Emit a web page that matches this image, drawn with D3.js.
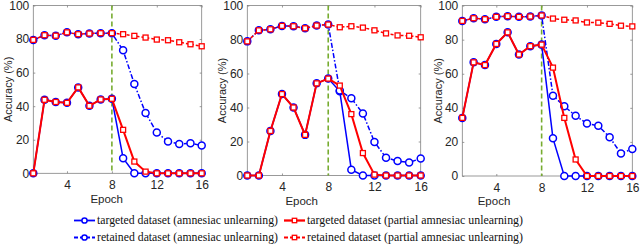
<!DOCTYPE html>
<html><head><meta charset="utf-8">
<script src="https://cdn.jsdelivr.net/npm/d3@7"></script>
<style>html,body{margin:0;padding:0;background:#fff}svg{display:block}</style>
</head><body>
<svg id="chart" width="640" height="245"></svg>
<script>
// ---- data ----
const epochs = [1,2,3,4,5,6,7,8,9,10,11,12,13,14,15,16];
const xTicks = [4,8,12,16];
const yTicks = [0,20,40,60,80,100];
const unlearnEpoch = 8;

const p1TargetedAmn     = [0,43.8,42.5,42,51.2,40.2,44,44.4, 9,0,0,0,0,0,0,0];
const p1TargetedPartial = [0,43.8,42.5,42,51.2,40.2,44,44.4, 25.9,7,1,0,0,0,0,0];
const p1RetainedAmn     = [79.5,82.3,82,84,82.9,83.3,83.5,83.5, 73.3,53.2,35.9,24.3,18.9,17.5,17.9,16.5];
const p1RetainedPartial = [79.5,82.3,82,84,82.9,83.3,83.5,83.5, 82.9,81.9,80.9,79.7,79.3,78.1,76.9,75.7];

const p2TargetedAmn     = [0,0,26.2,47.9,40,23.9,54.2,57, 49.5,3.4,0,0,0,0,0,0];
const p2TargetedPartial = [0,0,26.2,47.9,40,23.9,54.2,57, 52.9,36.1,13.2,0.5,0,0,0,0];
const p2RetainedAmn     = [78.9,85.4,86,88,87.8,86.6,88.2,88.8, 50,45.4,36.5,19.7,10.5,8.5,7.7,10];
const p2RetainedPartial = [78.9,85.4,86,88,87.8,86.6,88.2,88.8, 87.2,87.8,87,85.4,83.6,82.4,82.2,81.3];

const p3TargetedAmn     = [34.1,66.7,65.1,77.5,84.3,71.3,76.2,77.1, 22.1,0,0,0,0,0,0,0];
const p3TargetedPartial = [34.1,66.7,65.1,77.5,84.3,71.3,76.2,77.1, 63.6,34.1,9.7,0,0,0,0,0];
const p3RetainedAmn     = [91,92.6,92,93.4,93.8,93.4,93.6,94.2, 47.1,41,35.3,30.8,29.5,22.7,13.2,15.9];
const p3RetainedPartial = [91,92.6,92,93.4,93.8,93.4,93.6,94.2, 92.4,91.7,91.3,90.1,90,89.3,88.2,87.8];

const seriesNames = [
  "targeted dataset (amnesiac unlearning)",
  "targeted dataset (partial amnesiac unlearning)",
  "retained dataset (amnesiac unlearning)",
  "retained dataset (partial amnesiac unlearning)"
];
const xLabel = "Epoch";
const yLabel = "Accuracy (%)";

// ---- styling / layout ----
const BLUE = "#0000ff", RED = "#ff0000", GREEN = "#77ac30";
const AXIS = "#808080", TEXT = "#262626";
const styles = [
  {color: BLUE, marker: "circle", dash: null, width: 1.5},
  {color: RED, marker: "square", dash: null, width: 2},
  {color: BLUE, marker: "circle", dash: "5,2,1.5,2", width: 1.5},
  {color: RED, marker: "square", dash: "3,2", width: 1.5}
];
const panels = [
  {box: [33.3, 201.7, 5.5, 173.3], series: [p1TargetedAmn, p1TargetedPartial, p1RetainedAmn, p1RetainedPartial], xl: [106.7, 203], yl: 8},
  {box: [247.3, 420.7, 5.5, 175.5], series: [p2TargetedAmn, p2TargetedPartial, p2RetainedAmn, p2RetainedPartial], xl: [301.7, 205], yl: 222},
  {box: [462.3, 632.3, 5.6, 176], series: [p3TargetedAmn, p3TargetedPartial, p3RetainedAmn, p3RetainedPartial], xl: [494, 205], yl: 438}
];

const svg = d3.select("#chart");
const FONT = "'Liberation Sans', Arial, sans-serif";

function drawMarker(g, shape, color, x, y, r) {
  if (shape === "circle") {
    g.append("circle").attr("cx", x).attr("cy", y).attr("r", r)
      .attr("fill", "#fff").attr("stroke", color).attr("stroke-width", 1.5);
  } else {
    g.append("rect").attr("x", x - r).attr("y", y - r).attr("width", 2*r).attr("height", 2*r)
      .attr("fill", "#fff").attr("stroke", color).attr("stroke-width", 1.3);
  }
}

panels.forEach(p => {
  const [L, R, T, B] = p.box;
  const x = d3.scaleLinear().domain([1, 16]).range([L, R]);
  const y = d3.scaleLinear().domain([0, 100]).range([B, T]);
  const g = svg.append("g");

  // box
  g.append("rect").attr("x", L).attr("y", T).attr("width", R - L).attr("height", B - T)
    .attr("fill", "none").attr("stroke", AXIS).attr("stroke-width", 0.8);

  // axes (ticks inward)
  const ax = g.append("g").attr("transform", `translate(0,${B})`)
    .call(d3.axisBottom(x).tickValues(xTicks).tickSizeInner(-2).tickSizeOuter(0).tickPadding(7));
  const ay = g.append("g").attr("transform", `translate(${L},0)`)
    .call(d3.axisLeft(y).tickValues(yTicks).tickSizeInner(-2).tickSizeOuter(0).tickPadding(4));
  const axT = g.append("g").attr("transform", `translate(0,${T})`)
    .call(d3.axisTop(x).tickValues(xTicks).tickSizeInner(-2).tickSizeOuter(0).tickFormat(""));
  const ayR = g.append("g").attr("transform", `translate(${R},0)`)
    .call(d3.axisRight(y).tickValues(yTicks).tickSizeInner(-2).tickSizeOuter(0).tickFormat(""));
  [ax, ay, axT, ayR].forEach(a => {
    a.select(".domain").remove();
    a.selectAll("line").attr("stroke", AXIS).attr("stroke-width", 0.8);
    a.selectAll("text").attr("fill", TEXT).style("font-family", FONT).style("font-size", "12px");
  });

  // axis labels
  g.append("text").attr("x", p.xl[0]).attr("y", p.xl[1]).attr("text-anchor", "middle")
    .attr("fill", TEXT).style("font-family", FONT).style("font-size", "11.5px").text(xLabel);
  g.append("text").attr("transform", `translate(${p.yl},${(T + B) / 2}) rotate(-90)`)
    .attr("text-anchor", "middle").attr("dy", "0.35em")
    .attr("fill", TEXT).style("font-family", FONT).style("font-size", "11px").text(yLabel);

  // unlearning marker
  g.append("line").attr("x1", x(unlearnEpoch)).attr("x2", x(unlearnEpoch)).attr("y1", T).attr("y2", B)
    .attr("stroke", GREEN).attr("stroke-width", 1.6).attr("stroke-dasharray", "5,3");

  // series: blue first, red on top
  const order = [0, 2, 1, 3];
  order.forEach(i => {
    const vals = p.series[i], st = styles[i];
    const line = d3.line().x((d, k) => x(epochs[k])).y(d => y(d));
    g.append("path").datum(vals).attr("d", line).attr("fill", "none")
      .attr("stroke", st.color).attr("stroke-width", st.width)
      .attr("stroke-dasharray", st.dash);
    const mg = g.append("g");
    vals.forEach((v, k) => drawMarker(mg, st.marker, st.color, x(epochs[k]), y(v), st.marker === "circle" ? 3.5 : 2.5));
  });
});

// legend
const legendPos = [
  {x: 74, y: 220.5}, {x: 284, y: 220.5}, {x: 74, y: 237.5}, {x: 284, y: 237.5}
];
const legendTextW = [181, 216, 181, 216];
legendPos.forEach((pos, i) => {
  const st = styles[i];
  const g = svg.append("g");
  const w = 21;
  g.append("line").attr("x1", pos.x).attr("x2", pos.x + w).attr("y1", pos.y).attr("y2", pos.y)
    .attr("stroke", st.color).attr("stroke-width", st.width + 0.3)
    .attr("stroke-dasharray", st.dash ? "4,2" : null);
  drawMarker(g, st.marker, st.color, pos.x + w / 2, pos.y, st.marker === "circle" ? 2.6 : 2.2);
  g.append("text").attr("x", pos.x + w + 2).attr("y", pos.y).attr("dy", "0.33em")
    .attr("fill", "#111").style("font-family", "'Liberation Serif', 'DejaVu Serif', serif")
    .style("font-size", "11.5px")
    .attr("textLength", legendTextW[i]).attr("lengthAdjust", "spacingAndGlyphs")
    .text(seriesNames[i]);
});
</script>
</body></html>
